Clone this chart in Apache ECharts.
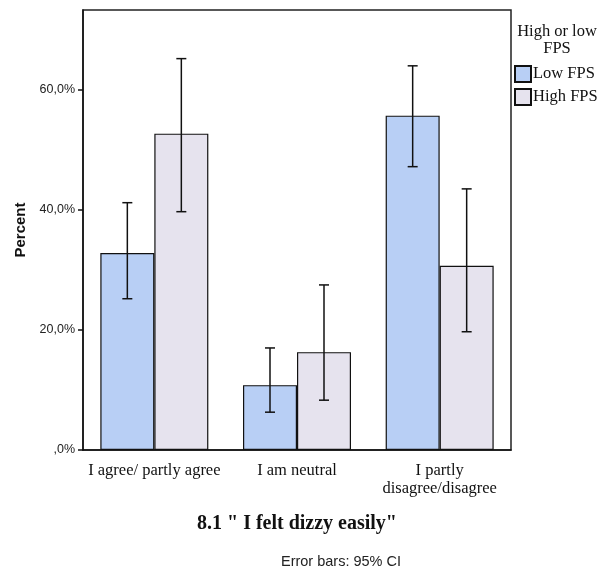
<!DOCTYPE html>
<html>
<head>
<meta charset="utf-8">
<script src="https://cdn.jsdelivr.net/npm/echarts@6/dist/echarts.min.js"></script>
<style>html,body{margin:0;padding:0;background:#fff}#c{width:610px;height:567px}</style>
</head>
<body>
<div id="c"></div>
<script>
const categories = ['I agree/ partly agree', 'I am neutral', 'I partly\ndisagree/disagree'];
const seriesNames = ['Low FPS', 'High FPS'];
const lowFps = [32.8, 10.8, 55.7];
const highFps = [52.7, 16.3, 30.7];
const lowFpsCiLow = [25.2, 6.3, 47.2];
const lowFpsCiHigh = [41.2, 17.0, 64.0];
const highFpsCiLow = [39.7, 8.3, 19.7];
const highFpsCiHigh = [65.2, 27.5, 43.5];
const yTicks = [0, 20, 40, 60];

const BAR_W = 54;
const serif = '"Liberation Serif", "DejaVu Serif", serif';
const sans = '"Liberation Sans", Arial, sans-serif';

function errData(lo, hi) {
  return categories.map((c, i) => [i, lo[i], hi[i]]);
}
function errSeries(name, lo, hi, offset) {
  return {
    type: 'custom',
    name: name + ' CI',
    data: errData(lo, hi),
    z: 5,
    silent: true,
    renderItem: function (params, api) {
      const x = api.coord([api.value(0), 0])[0] + offset;
      const yl = api.coord([api.value(0), api.value(1)])[1];
      const yh = api.coord([api.value(0), api.value(2)])[1];
      const cap = 5;
      const st = { stroke: '#111', lineWidth: 1.5 };
      return {
        type: 'group',
        children: [
          { type: 'line', shape: { x1: x, y1: yl, x2: x, y2: yh }, style: st },
          { type: 'line', shape: { x1: x - cap, y1: yh, x2: x + cap, y2: yh }, style: st },
          { type: 'line', shape: { x1: x - cap, y1: yl, x2: x + cap, y2: yl }, style: st }
        ]
      };
    }
  };
}

const chart = echarts.init(document.getElementById('c'));
chart.setOption({
  animation: false,
  backgroundColor: '#fff',
  title: [
    { text: '8.1 " I felt dizzy easily"', left: 297, top: 514, textAlign: 'center', padding: 0,
      textStyle: { fontFamily: serif, fontWeight: 'bold', fontSize: 20, color: '#111' } },
    { text: 'Error bars: 95% CI', left: 341, top: 554, textAlign: 'center', padding: 0,
      textStyle: { fontFamily: sans, fontWeight: 'normal', fontSize: 14.5, color: '#222' } },
    { text: 'High or low\nFPS', left: 557, top: 23, textAlign: 'center', padding: 0,
      textStyle: { fontFamily: serif, fontWeight: 'normal', fontSize: 16.5, lineHeight: 17, color: '#111' } }
  ],
  legend: {
    data: seriesNames,
    orient: 'vertical',
    left: 514,
    top: 65,
    padding: 0,
    itemWidth: 16,
    itemHeight: 16,
    itemGap: 5,
    icon: 'rect',
    textStyle: { fontFamily: serif, fontSize: 16.5, color: '#111', padding: [0, 0, 0, -3] }
  },
  grid: {
    left: 83, right: 99, top: 10, bottom: 117,
    show: true, borderColor: '#222', borderWidth: 1.5, backgroundColor: 'transparent'
  },
  xAxis: {
    type: 'category',
    data: categories,
    axisLine: { lineStyle: { color: '#111', width: 1.5 } },
    axisTick: { alignWithLabel: true, length: 8, lineStyle: { color: '#111', width: 1.5 } },
    axisLabel: { fontFamily: serif, fontSize: 16.5, color: '#111', margin: 12, lineHeight: 18, interval: 0 }
  },
  yAxis: {
    type: 'value',
    min: 0,
    max: 73.3,
    interval: 20,
    name: 'Percent',
    nameLocation: 'middle',
    nameGap: 55,
    nameTextStyle: { fontFamily: sans, fontWeight: 'bold', fontSize: 15, color: '#111' },
    splitLine: { show: false },
    axisLine: { show: true, lineStyle: { color: '#111', width: 1.5 } },
    axisTick: { show: true, length: 5, customValues: yTicks, lineStyle: { color: '#111', width: 1.5 } },
    axisLabel: {
      fontFamily: sans, fontSize: 12.5, color: '#222', margin: 8,
      customValues: yTicks,
      formatter: function (v) {
        return v === 0 ? ',0%' : v.toFixed(1).replace('.', ',') + '%';
      }
    }
  },
  series: [
    { type: 'bar', name: seriesNames[0], data: lowFps, barWidth: BAR_W, barGap: '0%',
      itemStyle: { color: '#b8cff5', borderColor: '#111', borderWidth: 1.2 } },
    { type: 'bar', name: seriesNames[1], data: highFps, barWidth: BAR_W, barGap: '0%',
      itemStyle: { color: '#e6e3ee', borderColor: '#111', borderWidth: 1.2 } },
    errSeries(seriesNames[0], lowFpsCiLow, lowFpsCiHigh, -BAR_W / 2),
    errSeries(seriesNames[1], highFpsCiLow, highFpsCiHigh, BAR_W / 2)
  ]
});
</script>
</body>
</html>
